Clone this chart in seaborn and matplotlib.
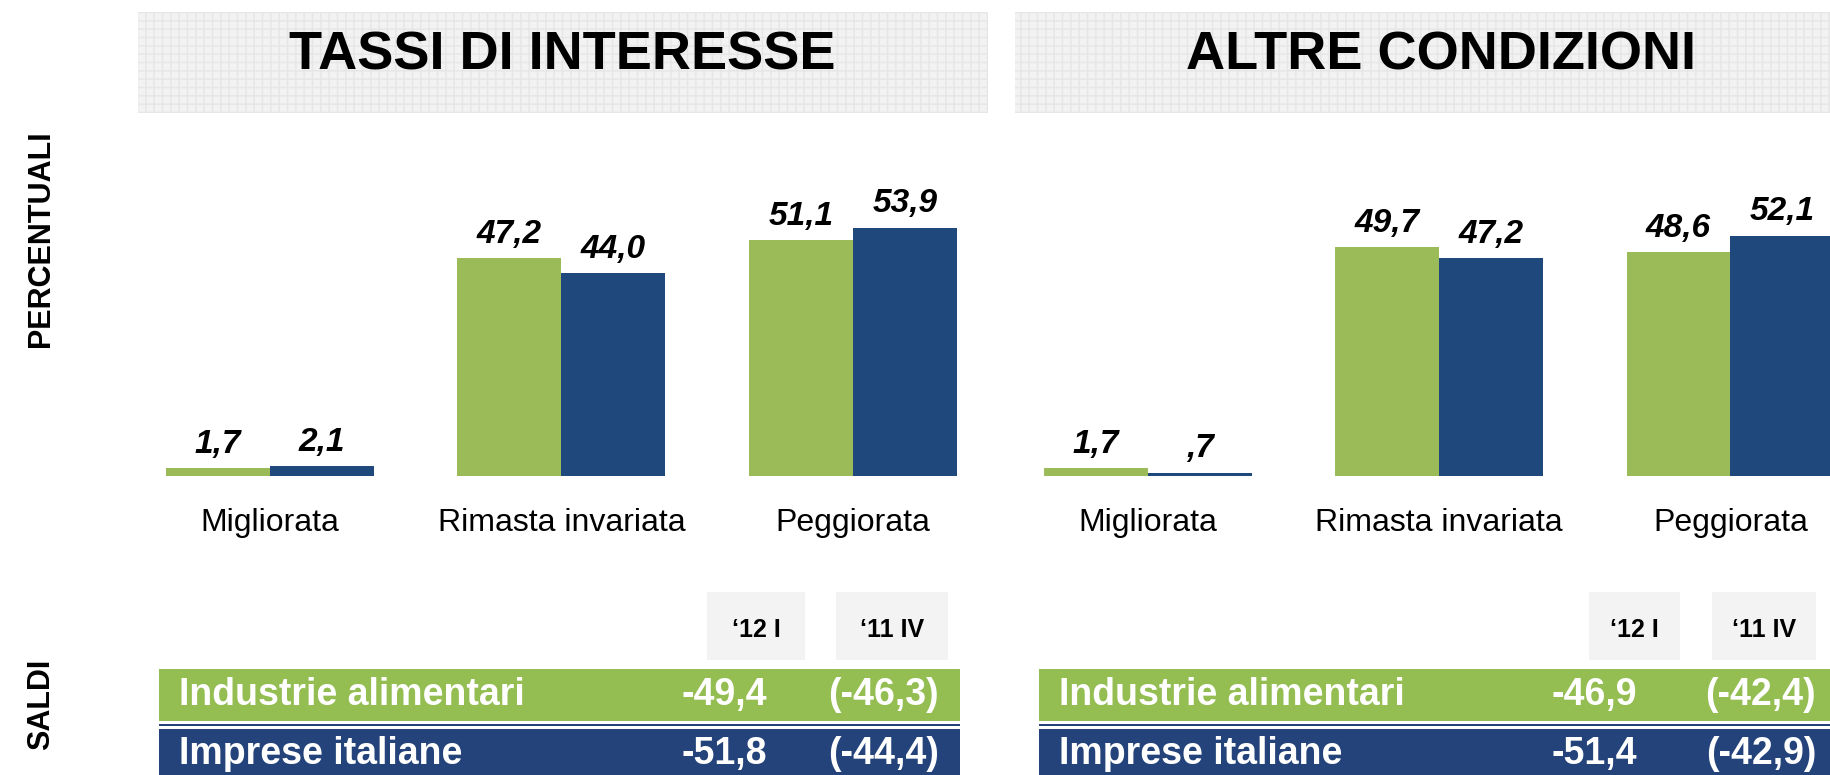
import matplotlib
matplotlib.use("Agg")
import matplotlib.pyplot as plt
import seaborn as sns
import pandas as pd
from matplotlib import font_manager
from matplotlib.patches import Rectangle

# --- dati ---
categorie = ["Migliorata", "Rimasta invariata", "Peggiorata"]
periodi = ["\u201812 I", "\u201811 IV"]
tassi_12I = [1.7, 47.2, 51.1]
tassi_11IV = [2.1, 44.0, 53.9]
altre_12I = [1.7, 49.7, 48.6]
altre_11IV = [0.7, 47.2, 52.1]

titoli = ["TASSI DI INTERESSE", "ALTRE CONDIZIONI"]
righe_saldi = ["Industrie alimentari", "Imprese italiane"]
saldi_tassi_12I = [-49.4, -51.8]
saldi_tassi_11IV = [-46.3, -44.4]
saldi_altre_12I = [-46.9, -51.4]
saldi_altre_11IV = [-42.4, -42.9]

VERDE = "#9bbb59"
BLU = "#1f497d"
VERDE_RIGA = "#94bd52"
BLU_RIGA = "#23437a"
W, H = 1830, 775

nomi = {f.name for f in font_manager.fontManager.ttflist}
NARROW = "Liberation Sans Narrow" if "Liberation Sans Narrow" in nomi else "Liberation Sans"

sns.set_style("white")
plt.rcParams["font.family"] = [NARROW, "DejaVu Sans"]
plt.rcParams["text.color"] = "black"
plt.rcParams["xtick.color"] = "black"


def fmt(v):
    s = f"{v:.1f}".replace(".", ",")
    if s.startswith("0,"):
        s = s[1:]
    return s


def rect_px(fig, x0, y0, x1, y1, **kw):
    fig.add_artist(Rectangle((x0 / W, 1 - y1 / H), (x1 - x0) / W, (y1 - y0) / H,
                             transform=fig.transFigure, **kw))


def text_px(fig, x, y, s, **kw):
    fig.text(x / W, 1 - y / H, s, **kw)


def bar_panel(fig, x0, x1, v12, v11):
    # asse posizionato in pixel: base barre a y=476, 4.61 px per punto
    y_base, y_top = 476, 476 - 60 * 4.61
    ax = fig.add_axes([x0 / W, 1 - y_base / H, (x1 - x0) / W, (y_base - y_top) / H])
    df = pd.DataFrame({
        "categoria": categorie * 2,
        "valore": v12 + v11,
        "periodo": [periodi[0]] * 3 + [periodi[1]] * 3,
    })
    sns.barplot(data=df, x="categoria", y="valore", hue="periodo", order=categorie,
                hue_order=periodi, palette=[VERDE, BLU], width=0.713, saturation=1,
                legend=False, ax=ax, edgecolor="none")
    for cont in ax.containers:
        ax.bar_label(cont, labels=[fmt(b.get_height()) for b in cont], padding=6,
                     fontsize=24, fontweight="bold", fontstyle="italic", clip_on=False)
    ax.set_xlim(-0.5, 2.5)
    ax.set_ylim(0, 60)
    sns.despine(ax=ax, left=True, bottom=True)
    ax.set_yticks([])
    ax.set_xlabel("")
    ax.set_ylabel("")
    ax.tick_params(axis="x", length=0, pad=23, labelsize=23)
    ax.patch.set_alpha(0)
    return ax


fig = plt.figure(figsize=(W / 100, H / 100), dpi=100)

# riquadri titolo
for (bx0, bx1, tx), titolo in zip([(138, 988, 562), (1015, 1830, 1441)], titoli):
    rect_px(fig, bx0, 12, bx1, 113, facecolor="#f2f2f2", edgecolor="#e6e6e6",
            hatch="++", linewidth=0)
    text_px(fig, tx, 56, titolo, ha="center", va="center", fontsize=39,
            fontweight="bold")

bar_panel(fig, 123.85, 998.85, tassi_12I, tassi_11IV)
bar_panel(fig, 1002.5, 1876, altre_12I, altre_11IV)

# etichette laterali
text_px(fig, 41, 239, "PERCENTUALI", rotation=90, ha="center", va="center",
        fontsize=22, fontweight="bold", family="Liberation Sans")
text_px(fig, 41, 704, "SALDI", rotation=90, ha="center", va="center",
        fontsize=22, fontweight="bold", family="Liberation Sans")

# tabelle saldi
pannelli = [
    dict(x0=159, x1=960, h12=(707, 805), h11=(836, 948), r12=767, r11=939,
         v12=saldi_tassi_12I, v11=saldi_tassi_11IV),
    dict(x0=1039, x1=1830, h12=(1589, 1680), h11=(1712, 1816), r12=1637, r11=1816,
         v12=saldi_altre_12I, v11=saldi_altre_11IV),
]
for p in pannelli:
    for (hx0, hx1), lab in zip([p["h12"], p["h11"]], periodi):
        rect_px(fig, hx0, 592, hx1, 660, facecolor="#f3f3f3", edgecolor="none")
        text_px(fig, (hx0 + hx1) / 2, 630, lab, ha="center", va="center",
                fontsize=18, fontweight="bold")
    righe_y = [(669, 721), (729, 775)]
    colori = [VERDE_RIGA, BLU_RIGA]
    for i, ((ry0, ry1), col, nome) in enumerate(zip(righe_y, colori, righe_saldi)):
        rect_px(fig, p["x0"], ry0, p["x1"], ry1, facecolor=col, edgecolor="none")
        yc = (ry0 + ry1) / 2 + (2 if i == 1 else 0)
        text_px(fig, p["x0"] + 20, yc, nome, ha="left", va="center", color="white",
                fontsize=27, fontweight="bold")
        text_px(fig, p["r12"], yc, fmt(p["v12"][i]), ha="right", va="center",
                color="white", fontsize=27, fontweight="bold")
        text_px(fig, p["r11"], yc, "(" + fmt(p["v11"][i]) + ")", ha="right",
                va="center", color="white", fontsize=27, fontweight="bold")
    # linea blu sottile di separazione
    rect_px(fig, p["x0"], 724, p["x1"], 726, facecolor=BLU_RIGA, edgecolor="none")

fig.savefig("out.png", dpi=100)
